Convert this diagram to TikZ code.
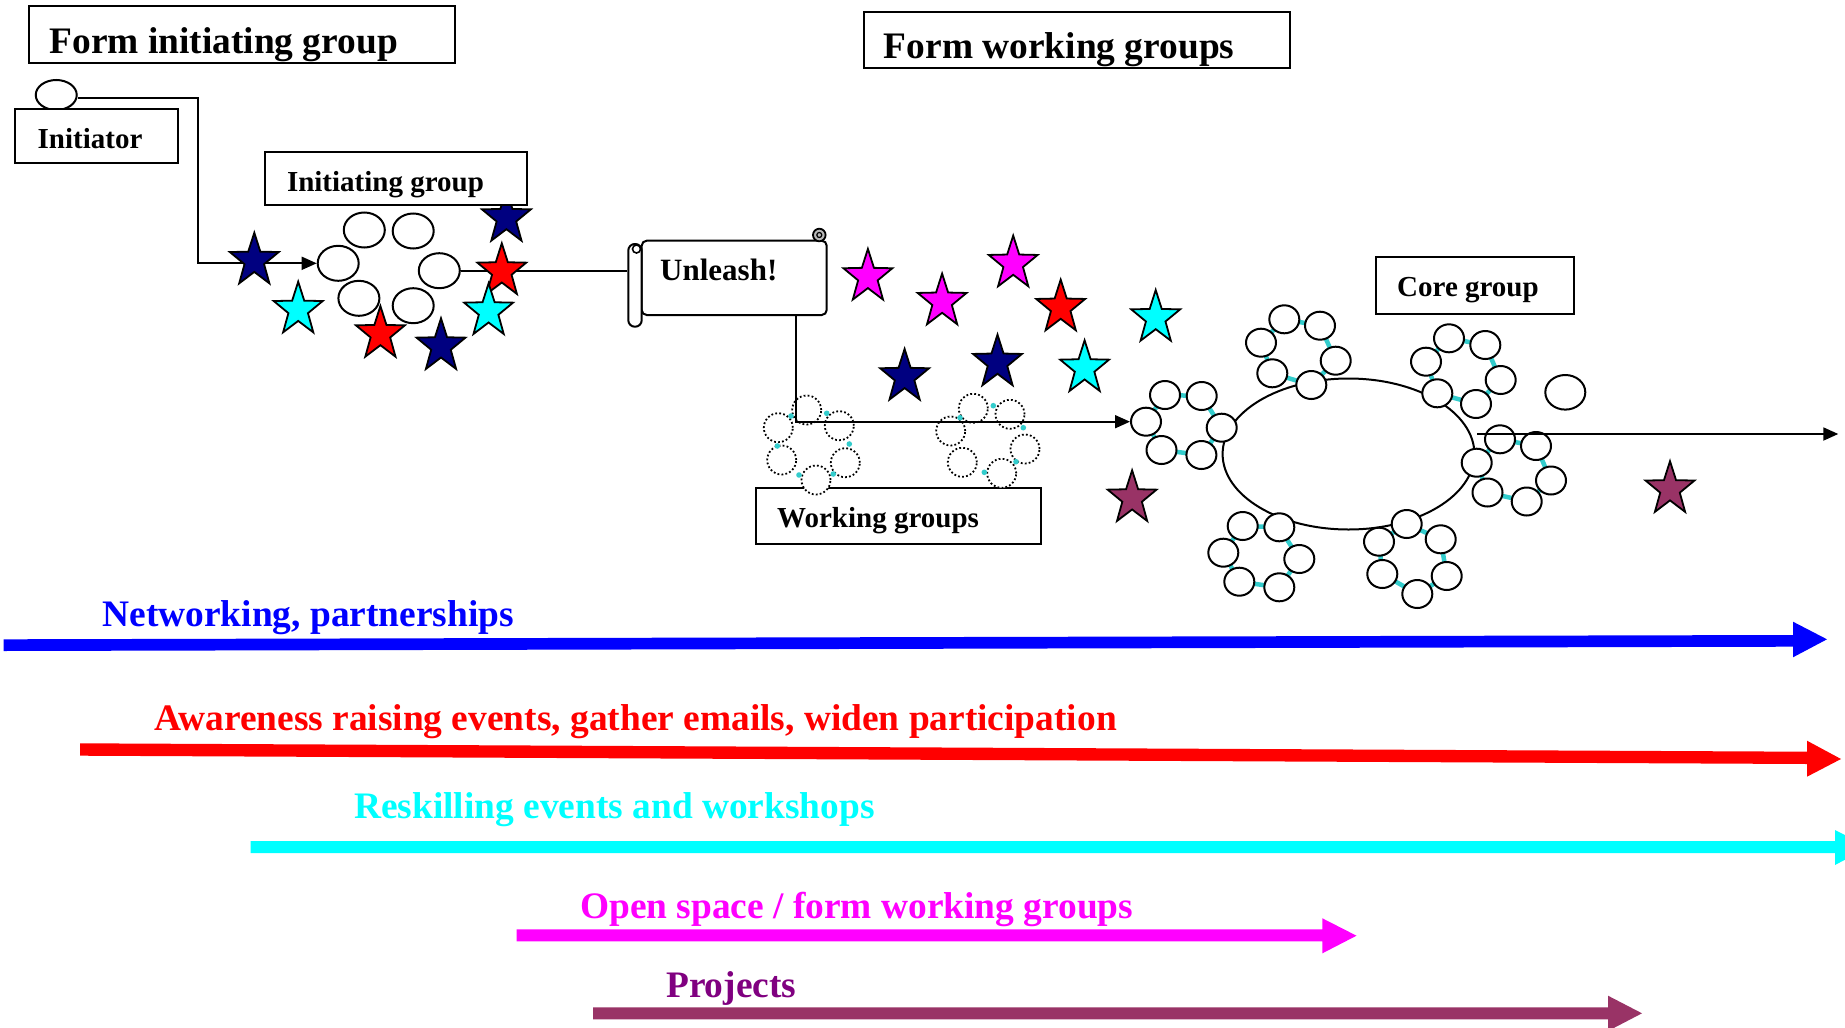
\documentclass[tikz,border=0pt]{standalone}
\usepackage{fontspec}
\setmainfont{Liberation Serif}
\usetikzlibrary{arrows.meta,shapes.geometric,calc,backgrounds}
\definecolor{navy}{RGB}{0,0,128}
\definecolor{cyanc}{RGB}{0,255,255}
\definecolor{magc}{RGB}{255,0,255}
\definecolor{plum}{RGB}{153,51,102}
\definecolor{tealc}{RGB}{51,204,204}
\definecolor{purp}{RGB}{128,0,128}
\definecolor{bluec}{RGB}{0,0,255}
\definecolor{redc}{RGB}{255,0,0}
\tikzset{
  pics/st/.style={code={\draw[line width=1.8pt, fill=#1, xscale=25.7, yscale=28]
    (0,-1) -- (0.2351,-0.3236) -- (0.9511,-0.3090) -- (0.3804,0.1236) -- (0.5878,0.8090)
    -- (0,0.4) -- (-0.5878,0.8090) -- (-0.3804,0.1236) -- (-0.9511,-0.3090) -- (-0.2351,-0.3236) -- cycle;}},
  box/.style={draw, line width=2pt, fill=white, inner sep=0pt},
  lbl/.style={anchor=base west, inner sep=0pt, font=\bfseries\fontsize{29}{32}\selectfont},
  big/.style={anchor=base west, inner sep=0pt, font=\bfseries\fontsize{37.4}{40}\selectfont},
  igc/.style={draw, ellipse, line width=2pt, fill=white, minimum width=41pt, minimum height=35pt, inner sep=0pt},
  cc/.style={draw, ellipse, line width=2pt, fill=white, minimum width=30pt, minimum height=28pt, inner sep=0pt},
  dc/.style={draw, circle, line width=1.8pt, dash pattern=on 1.8pt off 2.2pt, fill=white, minimum size=29pt, inner sep=0pt},
  conn/.style={line width=1.8pt, -{Triangle[length=15pt,width=13pt]}},
  plain/.style={line width=1.8pt},
  tring/.style={tealc, line width=4.5pt},
}
\begin{document}
\begin{tikzpicture}[x=1pt,y=-1pt]
\useasboundingbox (0,0) rectangle (1845,1028);
\clip (0,0) rectangle (1845,1028);
\begin{pgfonlayer}{background}
\fill[white] (0,0) rectangle (1845,1028);
\end{pgfonlayer}

% ---------- title boxes ----------
\node[box, minimum width=426.8pt, minimum height=56.9pt] (fbox1) at (242,34.85) {};
\node[big] (ftxt1) at (49.3,53.3) {Form initiating group};
\node[box, minimum width=426pt, minimum height=56.4pt] (fbox2) at (1076.7,40) {};
\node[big] (ftxt2) at (883.7,58.8) {Form working groups};

% ---------- initiator ----------
\node[draw, ellipse, line width=2pt, fill=white, minimum width=41pt, minimum height=30pt, inner sep=0pt] (ini) at (56.25,95) {};
\node[box, minimum width=162.5pt, minimum height=53.4pt] (inibox) at (96.65,136) {};
\node[lbl] (initxt) at (37.5,148.3) {Initiator};

% ---------- initiating group ----------
\pic at (506.4,218) {st=navy};
\node[box, minimum width=261.4pt, minimum height=52.7pt] (igbox) at (396.1,178.65) {};
\node[lbl] (igtxt) at (286.8,191.7) {Initiating group};
\node[igc] (ig1) at (364.3,230) {};
\node[igc] (ig2) at (413.2,231) {};
\node[igc] (ig3) at (338.2,263.3) {};
\node[igc] (ig4) at (439.3,270.7) {};
\node[igc] (ig5) at (358.9,298.3) {};
\node[igc] (ig6) at (413.2,305.7) {};

% ---------- unleash scroll ----------
\node[draw, line width=2pt, fill=white, rounded corners=5pt, minimum width=185pt, minimum height=74.3pt, inner sep=0pt] (unleash) at (734.2,277.85) {};
\node[draw, line width=2pt, fill=white, rounded corners=6.5pt, minimum width=13.4pt, minimum height=82.7pt, inner sep=0pt] (roll) at (635,285.35) {};
\draw[line width=1.6pt, fill=white] (636.5,249) circle (4);
\draw[line width=1.8pt, fill=gray!55] (819.3,235) circle (6.3);
\draw[line width=1.2pt] (819.3,235) circle (2.5);
\node[anchor=base west, inner sep=0pt, font=\bfseries\fontsize{31}{34}\selectfont] (untxt) at (660,280) {Unleash!};

% connectors left part
\draw[conn] ([yshift=-3pt]ini.east) -- ++(120,0) |- (ig3.west);
\draw[plain] (ig4.east) -- (ig4.east -| roll.west);

% ---------- working groups ----------
\node[box, minimum width=285pt, minimum height=55.3pt] (wgbox) at (898.5,515.95) {};
\node[lbl] (wgtxt) at (777,527) {Working groups};
\foreach \n/\x/\y in {1/806.7/410, 2/839.3/425.7, 3/778.3/427.7, 4/845.3/462.7, 5/781.7/460, 6/816/480}
  {\node[dc] (wa\n) at (\x,\y) {};}
\foreach \n/\x/\y in {1/973.3/408.3, 2/1010/414.3, 3/950.7/431, 4/1025/449, 5/962.3/462.3, 6/1001.7/473.3}
  {\node[dc] (wb\n) at (\x,\y) {};}
\foreach \x/\y in {791/416, 826.7/413.3, 849.3/444, 777.3/446, 799/475, 833.3/474,
                   960/417.7, 993.3/405.7, 1023.3/427.7, 1016/461.7, 984.3/472.3}
  {\fill[tealc] (\x,\y) circle (2.8);}

% ---------- core group ----------
\node[box, minimum width=197.9pt, minimum height=57.7pt] (cgbox) at (1474.55,285.35) {};
\node[lbl] (cgtxt) at (1397,296) {Core group};
\node[draw, ellipse, line width=2pt, minimum width=251.8pt, minimum height=151pt, inner sep=0pt] (core) at (1348.5,454) {};

\foreach \n/\x/\y in {1/1165/395, 2/1201.7/396, 3/1146/421.7, 4/1221.7/427.7, 5/1161.5/450, 6/1201.4/455}
  {\node[cc] (L\n) at (\x,\y) {};}
\foreach \n/\x/\y in {1/1284.3/319.3, 2/1320/325.7, 3/1261/342.7, 4/1335.7/360.7, 5/1272.3/373.3, 6/1311.3/385}
  {\node[cc] (T\n) at (\x,\y) {};}
\foreach \n/\x/\y in {1/1449/338.3, 2/1485.3/345, 3/1426/361.7, 4/1500.7/380, 5/1437.3/393.3, 6/1476/404}
  {\node[cc] (R\n) at (\x,\y) {};}
\foreach \n/\x/\y in {1/1500/439.3, 2/1536/446, 3/1476.7/462.7, 4/1551/480.5, 5/1487.5/492.5, 6/1526.7/501.5}
  {\node[cc] (Q\n) at (\x,\y) {};}
\foreach \n/\x/\y in {1/1242.7/526, 2/1279.3/527.3, 3/1223.3/552.7, 4/1299.3/559, 5/1239.3/581.7, 6/1279.3/587.3}
  {\node[cc] (B\n) at (\x,\y) {};}
\foreach \n/\x/\y in {1/1406.7/524, 2/1440.7/539.3, 3/1379/541.7, 4/1446.7/576, 5/1382.3/574, 6/1417.3/594}
  {\node[cc] (C\n) at (\x,\y) {};}
\node[draw, ellipse, line width=2pt, fill=white, minimum width=40pt, minimum height=34.6pt, inner sep=0pt] (solo) at (1565.3,392.3) {};

\begin{pgfonlayer}{background}
  \foreach \g in {L,T,R,Q,B,C}
    {\draw[tring] (\g1.center) -- (\g2.center) -- (\g4.center) -- (\g6.center) -- (\g5.center) -- (\g3.center) -- cycle;}
\end{pgfonlayer}

% connectors right part
\draw[conn] ([xshift=61.5pt]unleash.south) |- (L3.west);
\coordinate (endR) at (1838.3,434);
\draw[conn] ([shift={(2,-20)}]core.east) -- (endR);

% ---------- stars ----------
\pic at (254.3,260.7) {st=navy};
\pic at (298.2,309.7) {st=cyanc};
\pic at (380.4,334) {st=redc};
\pic at (441,346.3) {st=navy};
\pic at (501.8,271.3) {st=redc};
\pic at (488.6,311.3) {st=cyanc};
\pic at (867.9,276.9) {st=magc};
\pic at (942.1,301.6) {st=magc};
\pic at (1013.2,263.6) {st=magc};
\pic at (1060.7,307.6) {st=redc};
\pic at (904.6,376.9) {st=navy};
\pic at (997.5,362.6) {st=navy};
\pic at (1084.6,368.3) {st=cyanc};
\pic at (1155.7,318) {st=cyanc};
\pic at (1132.1,498.3) {st=plum};
\pic at (1670,489.2) {st=plum};

% ---------- timeline arrows ----------
\fill[bluec] (3.5,639.3) -- (1793,635) -- (1793,621.7) -- (1827,639.3) -- (1793,657.3) -- (1793,646.7) -- (3.5,651) -- cycle;
\node[big, text=bluec] (t1) at (102.4,626) {Networking, partnerships};
\fill[redc] (80,743.3) -- (1807,751.7) -- (1807,740.7) -- (1841,759) -- (1807,776.7) -- (1807,764) -- (80,755.7) -- cycle;
\node[big, text=redc] (t2) at (154,730.7) {Awareness raising events, gather emails, widen participation};
\fill[cyanc] (250.6,841) -- (1835,841) -- (1835,830) -- (1869,847) -- (1835,865) -- (1835,853) -- (250.6,853) -- cycle;
\node[big, text=cyanc] (t3) at (354,818.3) {Reskilling events and workshops};
\fill[magc] (516.5,929.3) -- (1322.4,929.3) -- (1322.4,918.3) -- (1356.5,935.7) -- (1322.4,953.3) -- (1322.4,941.3) -- (516.5,941.3) -- cycle;
\node[big, text=magc] (t4) at (580,918.3) {Open space / form working groups};
\fill[plum] (593,1007.3) -- (1608,1007.3) -- (1608,995.7) -- (1642,1013.3) -- (1608,1031) -- (1608,1019.3) -- (593,1019.3) -- cycle;
\node[big, text=purp] (t5) at (666,997.3) {Projects};
\end{tikzpicture}
\end{document}
